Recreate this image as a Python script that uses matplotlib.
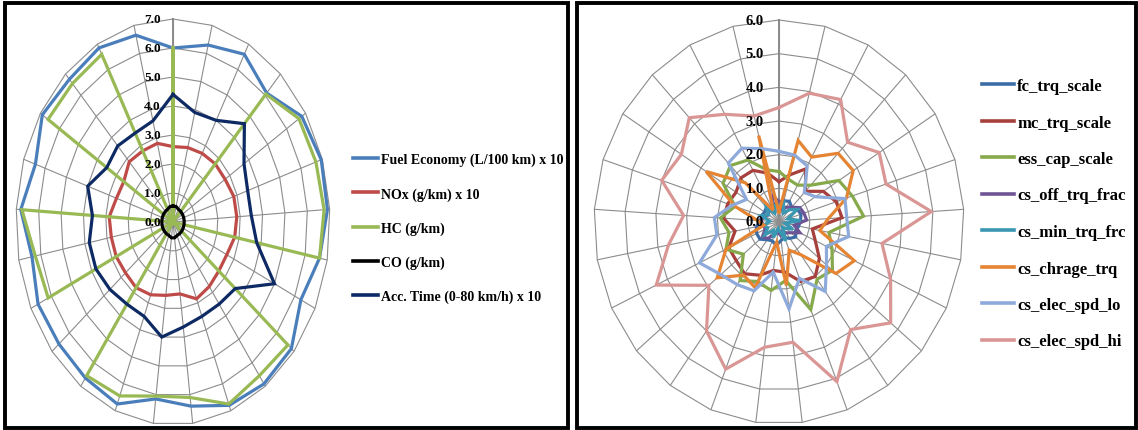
import numpy as np
import matplotlib
matplotlib.use("Agg")
import matplotlib.pyplot as plt
from matplotlib.patches import Rectangle
from matplotlib.lines import Line2D

# ---------------- data ----------------
N_CAT = 25  # radar categories (spokes), clockwise from top

left_names = ["Fuel Economy (L/100 km) x 10", "NOx (g/km) x 10", "HC (g/km)",
              "CO (g/km)", "Acc. Time (0-80 km/h) x 10"]
fuel_economy = [6.0, 6.3, 6.6, 6.1, 6.8, 6.95, 6.9, 6.65, 6.3, 6.85, 6.9, 6.8, 6.4,
                6.15, 6.75, 6.65, 6.6, 6.65, 6.4, 6.8, 6.45, 6.9, 6.75, 6.85, 6.65]
nox = [2.6, 2.65, 2.7, 2.75, 2.75, 2.85, 2.85, 2.8, 2.65, 2.65, 2.75, 2.85, 2.5,
       2.55, 2.7, 2.8, 2.75, 2.8, 2.8, 2.85, 2.65, 2.6, 2.85, 2.8, 2.8]
hc = [6.0, 0.0, 0.0, 6.05, 6.65, 6.7, 6.75, 6.65, 0.0, 6.65, 6.55, 6.75, 6.1,
      6.05, 6.45, 6.55, 0.0, 6.15, 6.25, 6.75, 0.0, 6.6, 6.55, 6.6, 0.0]
co = [0.55, 0.55, 0.5, 0.5, 0.5, 0.5, 0.5, 0.5, 0.5, 0.5, 0.5, 0.5, 0.55,
      0.55, 0.5, 0.5, 0.5, 0.5, 0.5, 0.5, 0.5, 0.5, 0.5, 0.5, 0.55]
acc_time = [4.4, 3.9, 4.0, 4.65, 3.75, 3.5, 3.5, 3.8, 5.0, 3.6, 3.5, 3.5, 3.65,
            4.0, 3.5, 3.5, 3.65, 3.8, 3.8, 3.6, 4.0, 3.5, 3.6, 3.5, 3.6]
left_ticks = [0.0, 1.0, 2.0, 3.0, 4.0, 5.0, 6.0, 7.0]

right_names = ["fc_trq_scale", "mc_trq_scale", "ess_cap_scale", "cs_off_trq_frac",
               "cs_min_trq_frc", "cs_chrage_trq", "cs_elec_spd_lo", "cs_elec_spd_hi"]
fc_trq_scale = [0.6, 0.65, 0.7, 0.6, 0.7, 0.75, 0.7, 0.65, 0.6, 0.7, 0.6, 0.5, 0.55,
                0.7, 0.6, 0.65, 0.8, 0.8, 0.75, 0.6, 0.6, 0.55, 0.6, 0.5, 0.55]
mc_trq_scale = [1.2, 1.45, 1.8, 1.25, 1.7, 1.95, 2.05, 1.1, 1.3, 1.7, 2.0, 1.9, 1.5,
                1.45, 1.7, 1.9, 1.8, 1.8, 1.45, 1.8, 1.75, 1.65, 1.8, 1.75, 1.5]
ess_cap_scale = [1.5, 1.3, 1.25, 1.5, 2.3, 2.5, 2.75, 1.65, 1.9, 2.25, 2.1, 2.8, 1.75,
                 2.05, 1.9, 2.15, 1.5, 1.9, 1.65, 1.9, 1.5, 2.15, 2.3, 2.1, 1.6]
cs_off_trq_frac = [0.6, 0.4, 0.5, 0.6, 0.8, 0.85, 0.9, 0.5, 0.75, 0.5, 0.4, 0.3, 0.4,
                   0.3, 0.4, 0.6, 0.7, 0.5, 0.5, 0.6, 0.5, 0.4, 0.5, 0.5, 0.8]
cs_min_trq_frc = [0.5, 0.6, 0.3, 0.5, 0.7, 0.3, 0.7, 0.2, 0.5, 0.3, 0.2, 0.6, 0.3,
                  0.2, 0.5, 0.3, 0.6, 0.4, 0.5, 0.3, 0.6, 0.4, 0.6, 0.3, 0.5]
cs_chrage_trq = [0.3, 2.5, 2.2, 2.8, 2.85, 2.3, 1.6, 1.35, 2.7, 2.4, 1.2, 0.9, 1.9,
                 0.6, 2.1, 1.95, 2.6, 1.9, 0.5, 0.7, 1.5, 2.8, 1.6, 0.4, 2.65]
cs_elec_spd_lo = [2.1, 2.05, 1.9, 1.2, 1.4, 2.25, 2.2, 2.3, 1.7, 2.0, 2.55, 1.8, 2.6,
                  1.5, 2.2, 2.3, 2.45, 2.85, 2.05, 2.1, 1.6, 1.25, 2.4, 2.5, 2.25]
cs_elec_spd_hi = [3.4, 3.95, 4.15, 3.25, 3.85, 3.65, 4.95, 3.4, 4.0, 4.7, 3.95, 5.1, 3.6,
                  3.75, 4.7, 4.0, 2.95, 4.4, 3.65, 3.1, 4.0, 3.75, 4.25, 3.65, 3.25]
right_ticks = [0.0, 1.0, 2.0, 3.0, 4.0, 5.0, 6.0]

left_series = [fuel_economy, nox, hc, co, acc_time]
right_series = [fc_trq_scale, mc_trq_scale, ess_cap_scale, cs_off_trq_frac,
                cs_min_trq_frc, cs_chrage_trq, cs_elec_spd_lo, cs_elec_spd_hi]

# ---------------- style ----------------
left_colors = ["#4A7EBB", "#BE4B48", "#98B954", "#000000", "#0E2A64"]
right_colors = ["#3D6DA7", "#A7403D", "#86A94C", "#6E5495", "#3A97B2",
                "#E58433", "#8EAADB", "#D99694"]
SERIF = "Liberation Serif"
GRID = "#8c8c8c"

W, H = 1138, 431
fig = plt.figure(figsize=(W / 100, H / 100), dpi=100)
fig.patch.set_facecolor("white")


def rect_px(x0, y0, x1, y1):
    return [x0 / W, 1 - y1 / H, (x1 - x0) / W, (y1 - y0) / H]


def radar(rect, series, colors, ticks, tick_fs, tick_off):
    ax = fig.add_axes(rect, projection="polar")
    ax.set_aspect("auto")
    ax.set_theta_zero_location("N")
    ax.set_theta_direction(-1)
    theta = np.arange(N_CAT) * 2 * np.pi / N_CAT
    tclosed = np.append(theta, theta[0])
    rmax = ticks[-1]
    ax.set_xticks(theta)
    ax.set_xticklabels([])
    ax.xaxis.grid(True, color=GRID, lw=0.8)
    ax.set_yticks([])
    ax.yaxis.grid(False)
    ax.set_ylim(0, rmax)
    ax.spines["polar"].set_visible(False)
    ax.patch.set_visible(False)
    for v in ticks[1:]:
        ax.plot(tclosed, [v] * (N_CAT + 1), color=GRID, lw=0.8, zorder=1,
                clip_on=False)
    ax.plot([0, 0], [0, rmax], color="#808080", lw=1.3, zorder=1, clip_on=False)
    for vals, c in zip(series, colors):
        ax.plot(tclosed, list(vals) + [vals[0]], color=c, lw=2.3, zorder=3,
                clip_on=False, solid_joinstyle="miter")
    for v in ticks:
        ax.annotate(f"{v:.1f}", xy=(0, v), xytext=(-tick_off, 0),
                    textcoords="offset pixels", ha="right", va="center",
                    fontsize=tick_fs, fontweight="bold", family=SERIF,
                    color="black", zorder=5, annotation_clip=False)
    return ax


radar(rect_px(16, 20, 330, 426), left_series, left_colors, left_ticks, 9.5, 12)
radar(rect_px(594, 21, 964, 425), right_series, right_colors, right_ticks, 10.5, 15)

# panel borders
for x0, x1 in [(5, 568), (577, 1136)]:
    fig.patches.append(Rectangle((x0 / W, 1 - 429 / H), (x1 - x0) / W, 425 / H,
                                 transform=fig.transFigure, fill=False,
                                 edgecolor="black", lw=2.8, zorder=10))

# legends
lh = [Line2D([], [], color=c, lw=2.6) for c in left_colors]
fig.legend(lh, left_names, loc="upper left", bbox_to_anchor=(353 / W, 1 - 154 / H),
           frameon=False, prop=dict(family=SERIF, weight="bold", size=10),
           handlelength=1.8, handletextpad=0.25, labelspacing=1.48,
           borderaxespad=0, borderpad=0)
rh = [Line2D([], [], color=c, lw=2.6) for c in right_colors]
fig.legend(rh, right_names, loc="upper left", bbox_to_anchor=(982 / W, 1 - 79 / H),
           frameon=False, prop=dict(family=SERIF, weight="bold", size=12),
           handlelength=1.9, handletextpad=0.2, labelspacing=1.23,
           borderaxespad=0, borderpad=0)

fig.savefig("out.png", dpi=100)
